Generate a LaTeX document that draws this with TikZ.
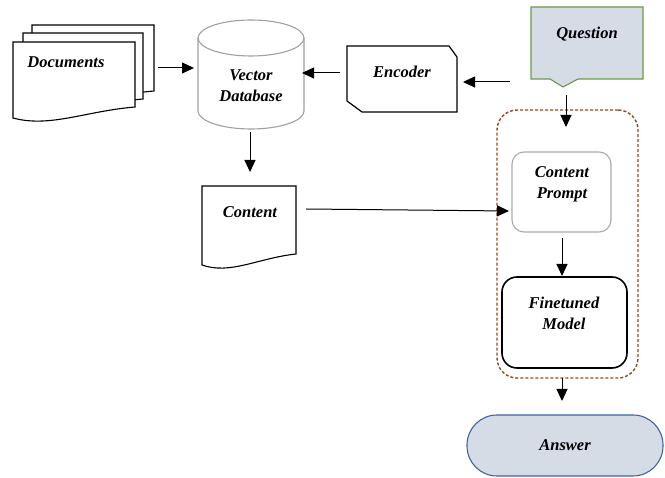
\documentclass[tikz,border=0pt]{standalone}
\usepackage{fontspec}
\setmainfont{Liberation Serif}
\usetikzlibrary{arrows.meta}
\definecolor{qfill}{RGB}{214,220,229}
\definecolor{qgreen}{RGB}{106,154,72}
\definecolor{ablue}{RGB}{62,100,165}
\definecolor{dbrown}{RGB}{150,72,25}
\definecolor{cyl}{RGB}{160,160,160}
\definecolor{cpgray}{RGB}{170,170,170}
\newcommand\docpath[4]{(#1,#2) -- (#1+#3,#2) -- (#1+#3,#2+#4) .. controls (#1+0.6*#3,#2+#4+4) and (#1+0.3*#3,#2+#4+21) .. (#1,#2+#4+11) -- cycle}
\tikzset{
  lbl/.style={font=\bfseries\itshape\fontsize{16.5}{21}\selectfont, align=center, inner sep=0pt},
  arr/.style={line width=1pt, -{Triangle[length=12pt,width=11pt]}},
  docst/.style={draw=black, fill=white, line width=1.1pt},
}
\begin{document}
\begin{tikzpicture}[x=1pt,y=-1pt]
\useasboundingbox (0,0) rectangle (665,478);
% documents stack
\draw[docst] \docpath{32}{25}{122}{66};
\draw[docst] \docpath{23}{33}{120}{66};
\draw[docst] \docpath{13}{42}{122}{65};
\node[lbl] (docs) at (66,62) {Documents};
% cylinder
\draw[cyl, fill=white, line width=1.1pt] (198,38) -- (198,111)
  .. controls (198,120.9) and (221.7,129) .. (251,129)
  .. controls (280.3,129) and (304,120.9) .. (304,111) -- (304,38);
\draw[cyl, line width=1.1pt] (251,38) ellipse [x radius=53, y radius=18];
\node[lbl] (db) at (251,86) {Vector\\Database};
% encoder
\draw[line width=1.2pt] (347,46) -- (449,46) -- (457,57) -- (457,112) -- (362,112) -- (347,101) -- cycle;
\node[lbl] (enc) at (402,72) {Encoder};
% question
\draw[qgreen, fill=qfill, line width=1.1pt] (531,7) -- (643,7) -- (643,79) -- (578,79) -- (563,87) -- (550,79) -- (531,79) -- cycle;
\node[lbl] (q) at (587,34) {Question};
% content doc
\draw[docst] \docpath{202}{186}{94}{68};
\node[lbl] (cont) at (250,212) {Content};
% group
\node[draw=dbrown, dashed, dash pattern=on 3pt off 2pt, line width=1.4pt, rounded corners=20pt, minimum width=141pt, minimum height=268pt, inner sep=0pt] (grp) at (567.5,244) {};
\node[draw=cpgray, line width=1.1pt, rounded corners=12pt, minimum width=99pt, minimum height=80pt, inner sep=0pt] (cp) at (561.5,192) {};
\node[lbl] (cpt) at (562,184) {Content\\Prompt};
\node[draw=black, line width=1.6pt, rounded corners=15pt, minimum width=125pt, minimum height=91pt, inner sep=0pt] (ft) at (564.5,322.5) {};
\node[lbl] (ftt) at (564,313) {Finetuned\\Model};
% answer
\node[draw=ablue, fill=qfill, line width=1.1pt, rounded corners=30pt, minimum width=196pt, minimum height=61pt, inner sep=0pt, font=\bfseries\itshape\fontsize{16.5}{21}\selectfont] (ans) at (565,445.5) {Answer};
% connector ends
\coordinate (a1s) at (158,68); \coordinate (a1e) at (194,68);
\coordinate (a2s) at (340,73); \coordinate (a2e) at (302,73);
\coordinate (a3s) at (510,82); \coordinate (a3e) at (463,82);
\coordinate (a4s) at (566,95); \coordinate (a4e) at (566,127);
\coordinate (a5s) at (250,132); \coordinate (a5e) at (250,172);
\coordinate (a6s) at (306,209); \coordinate (a6e) at (509,211);
\coordinate (a7s) at (562,238); \coordinate (a7e) at (562,276);
\coordinate (a8s) at (562,378); \coordinate (a8e) at (562,401);
\draw[arr] (a1s) -- (a1e);
\draw[arr] (a2s) -- (a2e);
\draw[arr] (a3s) -- (a3e);
\draw[arr] (a4s) -- (a4e);
\draw[arr] (a5s) -- (a5e);
\draw[arr] (a6s) -- (a6e);
\draw[arr] (a7s) -- (a7e);
\draw[arr] (a8s) -- (a8e);
\end{tikzpicture}
\end{document}
